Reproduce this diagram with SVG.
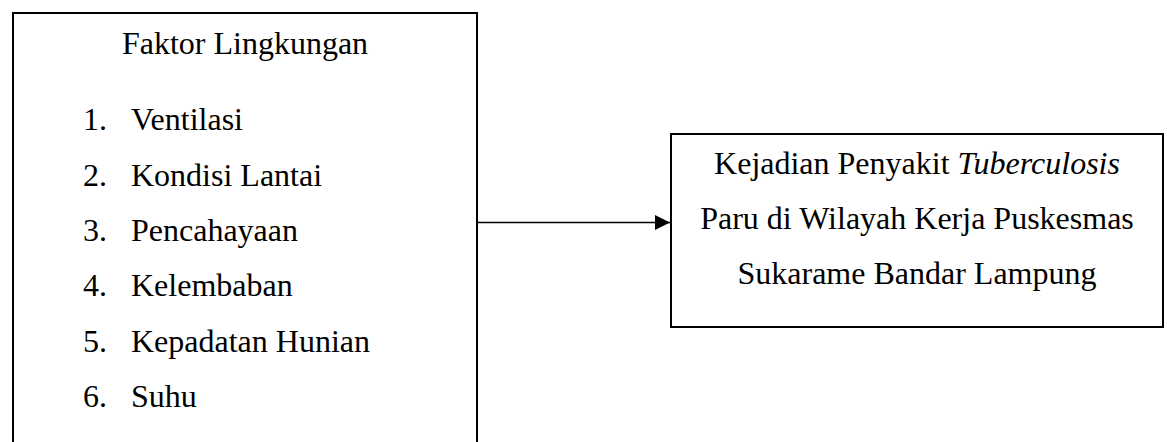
<svg xmlns="http://www.w3.org/2000/svg" width="1167" height="442" viewBox="0 0 1167 442">
<style>
.box{fill:#fff;stroke:#000;stroke-width:2}
text{font-family:"Liberation Serif","Times New Roman",serif;font-size:32px;fill:#000}
.c{text-anchor:middle}
.conn{stroke:#000;stroke-width:1.3;fill:none}
</style>
<defs>
<marker id="arr" markerWidth="15" markerHeight="15" refX="15" refY="7.5" orient="auto" markerUnits="userSpaceOnUse">
<path d="M0,0 L15,7.5 L0,15 Z" fill="#000"/>
</marker>
</defs>
<rect width="1167" height="442" fill="#fff"/>
<g id="faktor">
<rect class="box" x="13" y="13" width="464" height="440"/>
<text class="c" x="245" y="54">Faktor Lingkungan</text>
<text x="83" y="130">1.</text><text x="131" y="130">Ventilasi</text>
<text x="83" y="185.5">2.</text><text x="131" y="185.5">Kondisi Lantai</text>
<text x="83" y="241">3.</text><text x="131" y="241">Pencahayaan</text>
<text x="83" y="296">4.</text><text x="131" y="296">Kelembaban</text>
<text x="83" y="351.5">5.</text><text x="131" y="351.5">Kepadatan Hunian</text>
<text x="83" y="407">6.</text><text x="131" y="407">Suhu</text>
</g>
<g id="kejadian">
<rect class="box" x="671" y="134" width="492" height="193"/>
<text class="c" x="917" y="174">Kejadian Penyakit <tspan font-style="italic">Tuberculosis</tspan></text>
<text class="c" x="917" y="229">Paru di Wilayah Kerja Puskesmas</text>
<text class="c" x="917" y="284">Sukarame Bandar Lampung</text>
</g>
<g id="connectors">
<line class="conn" x1="477" y1="222.5" x2="670" y2="222.5" marker-end="url(#arr)"/>
</g>
</svg>
